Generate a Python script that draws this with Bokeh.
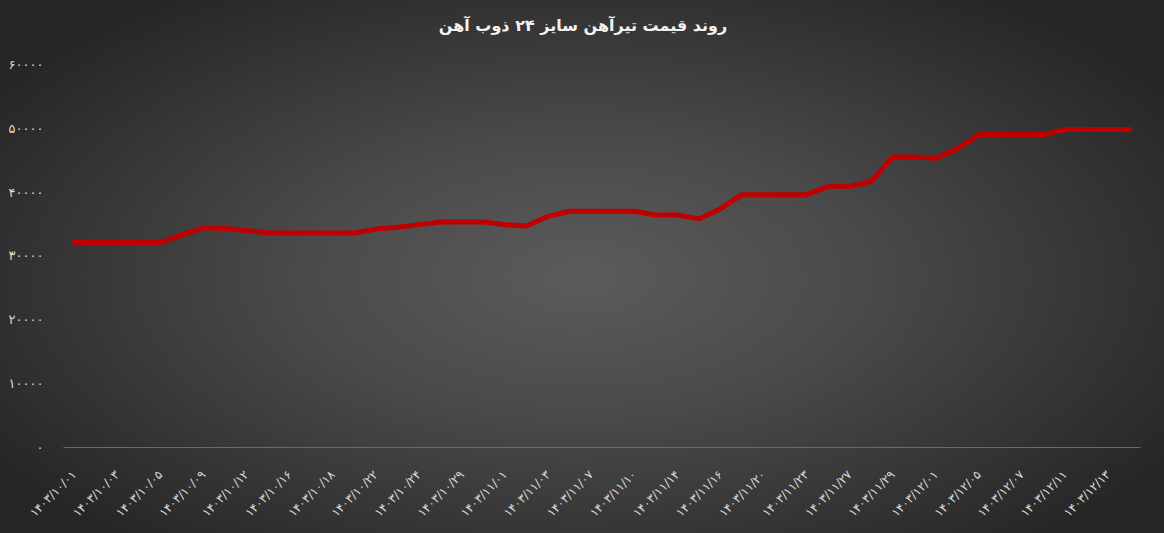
import math
from bokeh.plotting import figure
from bokeh.models import Range1d, FixedTicker, InlineStyleSheet, Label
from bokeh.embed import file_html
from bokeh.resources import INLINE

try:
    from bokeh.models import GlobalInlineStyleSheet
except Exception:
    GlobalInlineStyleSheet = None

# ---------------- data ----------------
title_text = "روند قیمت تیرآهن سایز ۲۴ ذوب آهن"

# labelled dates (every second point carries a label)
tick_labels = [
    "۱۴۰۳/۱۰/۰۱", "۱۴۰۳/۱۰/۰۳", "۱۴۰۳/۱۰/۰۵", "۱۴۰۳/۱۰/۰۹", "۱۴۰۳/۱۰/۱۲",
    "۱۴۰۳/۱۰/۱۶", "۱۴۰۳/۱۰/۱۸", "۱۴۰۳/۱۰/۲۲", "۱۴۰۳/۱۰/۲۴", "۱۴۰۳/۱۰/۲۹",
    "۱۴۰۳/۱۱/۰۱", "۱۴۰۳/۱۱/۰۳", "۱۴۰۳/۱۱/۰۷", "۱۴۰۳/۱۱/۱۰", "۱۴۰۳/۱۱/۱۴",
    "۱۴۰۳/۱۱/۱۶", "۱۴۰۳/۱۱/۲۰", "۱۴۰۳/۱۱/۲۳", "۱۴۰۳/۱۱/۲۷", "۱۴۰۳/۱۱/۲۹",
    "۱۴۰۳/۱۲/۰۱", "۱۴۰۳/۱۲/۰۵", "۱۴۰۳/۱۲/۰۷", "۱۴۰۳/۱۲/۱۱", "۱۴۰۳/۱۲/۱۳",
]

prices = [
    32100, 32100, 32100, 32100, 32100,
    33300, 34400, 34300, 34000,
    33600, 33600, 33600, 33600, 33600,
    34200, 34500, 34900,
    35300, 35300, 35300,
    34900, 34700, 36200,
    37000, 37000, 37000, 37000,
    36400, 36400, 35800, 37400,
    39600, 39600, 39600, 39600,
    40900, 40900, 41700,
    45500, 45500, 45300, 46800,
    49000, 49000, 49000, 49000,
    49800, 49800, 49800, 49800,
]

y_ticks = [0, 10000, 20000, 30000, 40000, 50000, 60000]
y_tick_labels = ["۰", "۱۰۰۰۰", "۲۰۰۰۰", "۳۰۰۰۰", "۴۰۰۰۰", "۵۰۰۰۰", "۶۰۰۰۰"]

label_step = 2

# ---------------- figure ----------------
x_idx = list(range(len(prices)))
tick_pos = [i * label_step for i in range(len(tick_labels))]

FONT = "DejaVu Sans"

# the frame reaches the top of the canvas so the title can sit inside it
p = figure(
    width=1164, height=533,
    output_backend="svg", toolbar_location=None,
    x_range=Range1d(-0.5, len(prices) - 0.5),
    y_range=Range1d(0, 70000),
    min_border_left=63, min_border_right=24,
    min_border_top=0, min_border_bottom=86,
)
p.title.visible = False

sheets = [InlineStyleSheet(css=":host { background: radial-gradient(ellipse 60% 65% at 50% 52%, #5b5b5b 0%, #4a4a4a 40%, #333333 78%, #262626 100%); }")]
if GlobalInlineStyleSheet is not None:
    sheets.append(GlobalInlineStyleSheet(css="body { background: #262626; }"))
p.stylesheets = sheets

p.background_fill_color = None
p.border_fill_color = None
p.outline_line_color = None

title = Label(
    x=519.5, y=422, x_units="screen", y_units="screen",
    text=title_text, text_align="center", text_baseline="middle",
    text_font=FONT, text_font_size="16px", text_font_style="bold",
    text_color="#f2f2f2",
)
p.add_layout(title)

# grids
p.xgrid.visible = False
p.ygrid.visible = False

# x axis
xa = p.xaxis[0]
xa.ticker = FixedTicker(ticks=tick_pos)
xa.major_label_overrides = {t: lab for t, lab in zip(tick_pos, tick_labels)}
xa.major_label_orientation = math.pi / 4
xa.major_label_text_font = FONT
xa.major_label_text_font_size = "12px"
xa.major_label_text_color = "#d9d9d9"
xa.major_label_standoff = 19
xa.major_tick_line_color = None
xa.minor_tick_line_color = None
xa.axis_line_color = "#6a6a6a"
xa.axis_line_width = 1

# y axis
ya = p.yaxis[0]
ya.ticker = FixedTicker(ticks=y_ticks)
ya.major_label_overrides = {t: lab for t, lab in zip(y_ticks, y_tick_labels)}
ya.major_label_text_font = FONT
ya.major_label_text_font_size = "13px"
ya.major_label_text_color = "#d9d9d9"
ya.major_label_standoff = 14
ya.major_tick_line_color = None
ya.minor_tick_line_color = None
ya.axis_line_color = None

# series
p.line(x_idx, prices, line_color="#c00000", line_width=5,
       line_join="round", line_cap="round")

open("out.html", "w").write(file_html(p, INLINE))
